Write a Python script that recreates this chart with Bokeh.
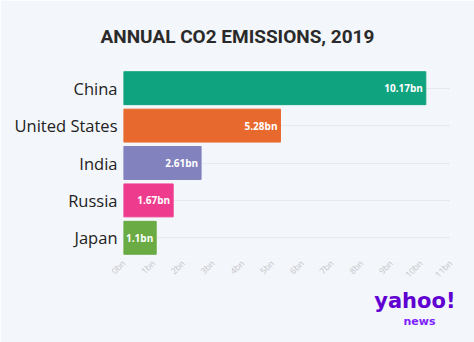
from bokeh.plotting import figure
from bokeh.models import Range1d, FactorRange, ColumnDataSource, FixedTicker, Title
from bokeh.embed import file_html
from bokeh.resources import INLINE
import math

countries = ["China", "United States", "India", "Russia", "Japan"]
emissions = [10.17, 5.28, 2.61, 1.67, 1.10]
value_labels = ["10.17bn", "5.28bn", "2.61bn", "1.67bn", "1.1bn"]
colors = ["#10a37f", "#e8692e", "#8282be", "#ee3b8d", "#6aab44"]
x_ticks = list(range(0, 12))
x_tick_labels = {t: f"{t}bn" for t in x_ticks}

BG = "#f3f6fa"
factors = list(reversed(countries))

p = figure(width=474, height=342, output_backend="svg", toolbar_location=None,
           x_range=Range1d(0, 11), y_range=FactorRange(*factors),
           min_border_left=123, min_border_right=24, min_border_top=68, min_border_bottom=86)
p.y_range.range_padding = 0
p.y_range.factor_padding = 0
p.background_fill_color = BG
p.border_fill_color = BG
p.outline_line_color = None

src = ColumnDataSource(dict(country=countries, val=emissions, color=colors, lab=value_labels))
p.hbar(y="country", right="val", left=0, height=0.88, color="color", source=src)
p.text(x="val", y="country", text="lab", source=src, x_offset=-3,
       text_align="right", text_baseline="middle", text_color="white",
       text_font_size="10px", text_font_style="bold",
       text_font={"value": "Open Sans"})

p.xgrid.grid_line_color = None
p.ygrid.grid_line_color = "#e6e9ef"
p.ygrid.grid_line_width = 1

p.xaxis.ticker = FixedTicker(ticks=x_ticks)
p.xaxis.major_label_overrides = x_tick_labels
p.xaxis.major_label_orientation = math.pi / 4
p.xaxis.major_label_text_font_size = "8.5px"
p.xaxis.major_label_text_color = "#c2c4c8"
p.xaxis.major_label_text_font = "Open Sans"
p.xaxis.axis_line_color = None
p.xaxis.major_tick_line_color = None
p.xaxis.minor_tick_line_color = None
p.xaxis.major_tick_out = 0
p.xaxis.major_tick_in = 0
p.xaxis.major_label_standoff = 5

p.yaxis.axis_line_color = None
p.yaxis.major_tick_line_color = None
p.yaxis.minor_tick_line_color = None
p.yaxis.major_tick_out = 0
p.yaxis.major_tick_in = 0
p.yaxis.major_label_text_font = "Open Sans"
p.yaxis.major_label_text_font_size = "16.5px"
p.yaxis.major_label_text_color = "#222222"
p.yaxis.major_label_standoff = 6

p.title.text = "ANNUAL CO2 EMISSIONS, 2019"
p.title.align = "left"
p.title.offset = -23
p.title.text_font = "Roboto"
p.title.text_font_style = "bold"
p.title.text_font_size = "19px"
p.title.text_color = "#2a2a2a"
p.title.standoff = 44

logo = Title(text="yahoo!", align="right", text_font="DejaVu Sans", text_font_style="bold",
             text_font_size="21px", text_color="#6001d2", offset=-5, standoff=0,
             text_line_height=1.0)
news = Title(text="news", align="right", text_font="DejaVu Sans", text_font_style="bold",
             text_font_size="11px", text_color="#7e1fff", offset=15, standoff=0,
             text_line_height=1.0)
p.add_layout(logo, "below")
p.add_layout(news, "below")

open("out.html", "w").write(file_html(p, INLINE))
